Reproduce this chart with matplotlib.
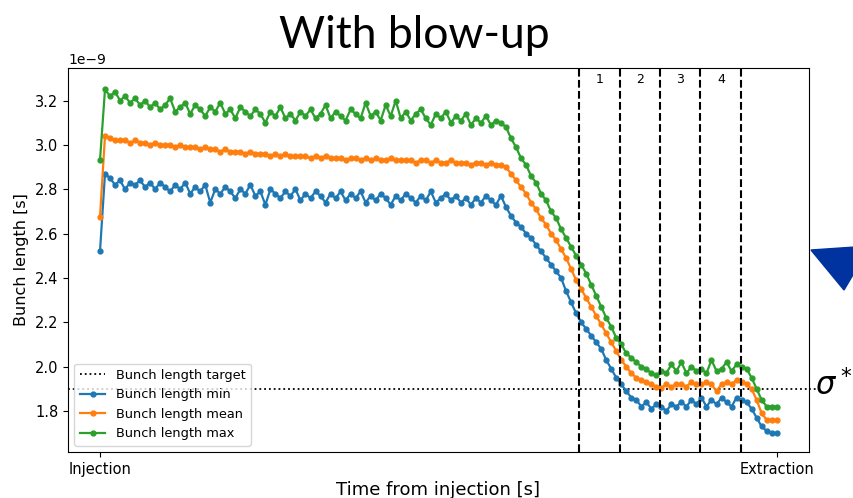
import numpy as np
import matplotlib
matplotlib.use("Agg")
import matplotlib.pyplot as plt
from matplotlib.patches import Polygon
from matplotlib.lines import Line2D

# bunch length in units of 1e-9 s, sampled evenly from injection to extraction
bl_min = [2.52,
    2.87, 2.85, 2.82, 2.84, 2.80, 2.83, 2.82, 2.84, 2.81, 2.83,
    2.80, 2.83, 2.81, 2.79, 2.82, 2.80, 2.83, 2.78, 2.81, 2.79,
    2.82, 2.74, 2.80, 2.78, 2.81, 2.79, 2.76, 2.80, 2.78, 2.82,
    2.77, 2.79, 2.73, 2.80, 2.78, 2.76, 2.79, 2.77, 2.80, 2.75,
    2.78, 2.76, 2.79, 2.77, 2.74, 2.78, 2.76, 2.79, 2.75, 2.78,
    2.76, 2.79, 2.74, 2.77, 2.75, 2.78, 2.76, 2.73, 2.77, 2.75,
    2.78, 2.76, 2.74, 2.77, 2.75, 2.79, 2.74, 2.76, 2.78, 2.75,
    2.77, 2.74, 2.76, 2.73, 2.76, 2.74, 2.77, 2.75, 2.73, 2.77,
    2.72, 2.68, 2.65, 2.63, 2.60, 2.58, 2.55, 2.52, 2.49, 2.46,
    2.43, 2.40, 2.34, 2.29, 2.24, 2.20, 2.17, 2.14, 2.11, 2.08,
    2.03, 1.99, 1.95, 1.92, 1.89, 1.86, 1.85, 1.82, 1.84, 1.81,
    1.83, 1.82, 1.80, 1.83, 1.82, 1.84, 1.82, 1.85, 1.83, 1.86,
    1.82, 1.85, 1.83, 1.86, 1.84, 1.82, 1.86, 1.85, 1.84, 1.81,
    1.77, 1.73, 1.71, 1.70, 1.70]

bl_mean = [2.675,
    3.04, 3.03, 3.02, 3.02, 3.02, 3.01, 3.02, 3.01, 3.01, 3.00,
    3.01, 3.00, 3.00, 3.00, 2.99, 3.00, 2.99, 2.99, 2.99, 2.98,
    2.99, 2.98, 2.98, 2.97, 2.98, 2.97, 2.97, 2.97, 2.96, 2.97,
    2.96, 2.96, 2.96, 2.95, 2.96, 2.95, 2.96, 2.95, 2.95, 2.95,
    2.95, 2.94, 2.95, 2.94, 2.95, 2.94, 2.94, 2.94, 2.93, 2.94,
    2.94, 2.93, 2.94, 2.93, 2.94, 2.93, 2.93, 2.94, 2.93, 2.93,
    2.93, 2.93, 2.92, 2.93, 2.93, 2.92, 2.93, 2.92, 2.92, 2.93,
    2.92, 2.92, 2.92, 2.91, 2.92, 2.92, 2.91, 2.92, 2.91, 2.91,
    2.90, 2.87, 2.84, 2.81, 2.78, 2.74, 2.71, 2.67, 2.64, 2.60,
    2.57, 2.53, 2.49, 2.44, 2.39, 2.35, 2.31, 2.27, 2.23, 2.19,
    2.15, 2.11, 2.07, 2.03, 2.00, 1.97, 1.95, 1.94, 1.93, 1.92,
    1.91, 1.905, 1.92, 1.91, 1.92, 1.92, 1.91, 1.93, 1.92, 1.92,
    1.93, 1.92, 1.89, 1.92, 1.93, 1.92, 1.94, 1.93, 1.92, 1.90,
    1.85, 1.79, 1.76, 1.76, 1.76]

bl_max = [2.93,
    3.25, 3.22, 3.24, 3.20, 3.22, 3.19, 3.21, 3.18, 3.20, 3.17,
    3.19, 3.16, 3.18, 3.21, 3.15, 3.17, 3.19, 3.14, 3.18, 3.16,
    3.13, 3.17, 3.15, 3.19, 3.14, 3.16, 3.12, 3.17, 3.15, 3.13,
    3.16, 3.14, 3.10, 3.15, 3.13, 3.17, 3.12, 3.14, 3.11, 3.15,
    3.13, 3.16, 3.12, 3.14, 3.18, 3.12, 3.15, 3.13, 3.11, 3.16,
    3.14, 3.12, 3.19, 3.13, 3.15, 3.11, 3.18, 3.13, 3.20, 3.12,
    3.15, 3.11, 3.14, 3.16, 3.12, 3.09, 3.14, 3.12, 3.15, 3.10,
    3.13, 3.11, 3.14, 3.09, 3.12, 3.10, 3.13, 3.09, 3.11, 3.10,
    3.08, 3.03, 2.99, 2.94, 2.91, 2.86, 2.83, 2.78, 2.75, 2.70,
    2.67, 2.62, 2.58, 2.54, 2.50, 2.46, 2.42, 2.37, 2.32, 2.27,
    2.22, 2.18, 2.13, 2.10, 2.06, 2.04, 2.02, 2.00, 1.99, 1.97,
    1.96, 1.98, 1.97, 2.01, 1.98, 2.02, 1.97, 2.00, 1.98, 1.99,
    1.97, 2.03, 1.98, 1.99, 2.02, 1.98, 2.01, 2.00, 1.99, 1.95,
    1.90, 1.85, 1.82, 1.82, 1.82]

target = 1.9
phase_edges = [0.708, 0.768, 0.827, 0.887, 0.948]
phase_names = ["1", "2", "3", "4"]

t = np.linspace(0, 1, len(bl_min))
scale = 1e-9

fig = plt.figure(figsize=(8.54, 4.98), dpi=100)
ax = fig.add_axes([0.0796, 0.0924, 0.8677, 0.7711])

ax.axhline(target * scale, color="k", ls=":", lw=1.3, label="Bunch length target")
ax.plot(t, np.array(bl_min) * scale, ".-", color="tab:blue", ms=7, lw=1.6, label="Bunch length min")
ax.plot(t, np.array(bl_mean) * scale, ".-", color="tab:orange", ms=7, lw=1.6, label="Bunch length mean")
ax.plot(t, np.array(bl_max) * scale, ".-", color="tab:green", ms=7, lw=1.6, label="Bunch length max")

# dotted target line continues past the frame towards sigma*
ext = Line2D([1.0, 1.01], [target * scale] * 2, transform=ax.get_yaxis_transform(),
             color="k", ls=":", lw=1.3, clip_on=False)
ax.add_line(ext)

for xe in phase_edges:
    ax.axvline(xe, color="k", ls="--", lw=1.5)
for k, name in enumerate(phase_names):
    xm = (phase_edges[k] + phase_edges[k + 1]) / 2
    ax.text(xm, 0.969, name, transform=ax.get_xaxis_transform(), ha="center", va="center", fontsize=9)

ax.set_xlim(-0.0473, 1.0478)
ax.set_ylim(1.615e-9, 3.347e-9)
ax.set_xticks([0, 1])
ax.set_xticklabels(["Injection", "Extraction"], fontsize=10.5)
ax.tick_params(axis="y", labelsize=10.5)
ax.set_xlabel("Time from injection [s]", fontsize=13, labelpad=3)
ax.set_ylabel("Bunch length [s]", fontsize=11.5)
ax.legend(loc="lower left", fontsize=9.3)

fig.text(414 / 854, 1 - 48 / 498, "With blow-up", ha="center", va="baseline",
         fontsize=32, family=["Lato", "DejaVu Sans"])
fig.text(834 / 854, 1 - 385 / 498, r"$\sigma^*$", ha="center", va="center", fontsize=22)

tri = Polygon([(811 / 854, 1 - 250 / 498), (870 / 854, 1 - 246 / 498), (844 / 854, 1 - 290 / 498)],
              closed=True, transform=fig.transFigure, color="#0033a0", clip_on=False)
fig.patches.append(tri)

fig.savefig("out.png", dpi=100)
